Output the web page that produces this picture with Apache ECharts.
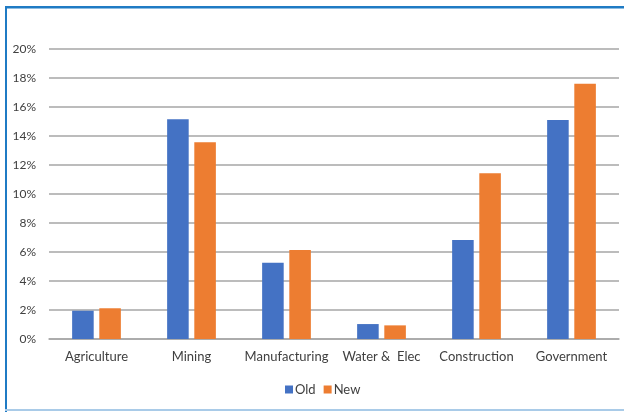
<!DOCTYPE html>
<html>
<head>
<meta charset="utf-8">
<script src="https://cdn.jsdelivr.net/npm/echarts@6/dist/echarts.min.js"></script>
<style>
html,body{margin:0;padding:0;background:#fff;}
#c{width:624px;height:412px;}
</style>
</head>
<body>
<div id="c"></div>
<script>
const categories = ['Agriculture', 'Mining', 'Manufacturing', 'Water &  Elec', 'Construction', 'Government'];
const oldValues = [1.95, 15.15, 5.26, 1.03, 6.83, 15.1];
const newValues = [2.12, 13.57, 6.14, 0.94, 11.43, 17.6];
const yTicks = [0, 2, 4, 6, 8, 10, 12, 14, 16, 18, 20];

const font = 'Lato, "Open Sans", sans-serif';
const chart = echarts.init(document.getElementById('c'), null, {renderer: 'canvas'});
chart.setOption({
  animation: false,
  backgroundColor: '#fff',
  textStyle: {fontFamily: font},
  graphic: [
    {type: 'rect', shape: {x: 5, y: 6, width: 619, height: 2.5}, style: {fill: '#1f7bc4'}},
    {type: 'rect', shape: {x: 5, y: 6, width: 2, height: 406}, style: {fill: '#1f7bc4'}},
    {type: 'rect', shape: {x: 5, y: 409, width: 619, height: 2}, style: {fill: '#a9cbe8'}}
  ],
  grid: {left: 49, right: 5, top: 49, bottom: 73, containLabel: false},
  legend: {
    left: 280, top: 378,
    itemWidth: 8, itemHeight: 8, itemGap: 8,
    icon: 'rect',
    textStyle: {fontFamily: font, fontSize: 13, color: '#404040', padding: [0, 0, 0, -3]},
    data: ['Old', 'New']
  },
  xAxis: {
    type: 'category',
    data: categories,
    axisLine: {show: true, lineStyle: {color: '#a6a6a6', width: 1.5}},
    axisTick: {show: false},
    axisLabel: {fontFamily: font, fontSize: 13, color: '#404040', margin: 11, interval: 0}
  },
  yAxis: {
    type: 'value',
    min: yTicks[0], max: yTicks[yTicks.length - 1], interval: 2,
    axisLine: {show: false},
    axisTick: {show: false},
    splitLine: {lineStyle: {color: '#a6a6a6', width: 1.5}},
    axisLabel: {fontFamily: font, fontSize: 12, color: '#404040', margin: 13, formatter: v => v + '%'}
  },
  series: [
    {name: 'Old', type: 'bar', data: oldValues, barWidth: '22.7%', barGap: '26%', itemStyle: {color: '#4472c4'}},
    {name: 'New', type: 'bar', data: newValues, barWidth: '22.7%', itemStyle: {color: '#ed7d31'}}
  ]
});
</script>
</body>
</html>
